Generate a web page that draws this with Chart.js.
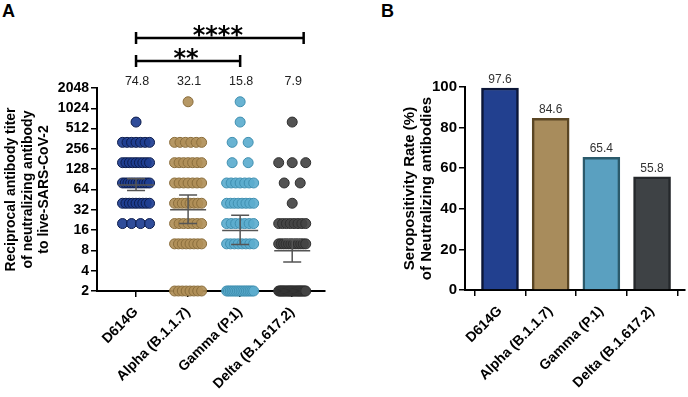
<!DOCTYPE html>
<html>
<head>
<meta charset="utf-8">
<script src="https://cdn.jsdelivr.net/npm/chart.js@4.4.0/dist/chart.umd.min.js"></script>
<style>
  body { margin: 0; background: #fff; width: 688px; height: 397px; overflow: hidden; position: relative; font-family: 'Liberation Sans', Arial, sans-serif; }
  #wrapA { position: absolute; left: 0; top: 0; width: 340px; height: 397px; }
  #wrapB { position: absolute; left: 340px; top: 0; width: 348px; height: 397px; }
  .tag { position: absolute; top: 0; font-weight: bold; font-size: 18px; line-height: 22px; color: #000; }
</style>
</head>
<body>
<div class="tag" style="left:2px">A</div>
<div class="tag" style="left:381px">B</div>
<div id="wrapA"><canvas id="chartA"></canvas></div>
<div id="wrapB"><canvas id="chartB"></canvas></div>
<script>
const groups = ['D614G', 'Alpha (B.1.1.7)', 'Gamma (P.1)', 'Delta (B.1.617.2)'];

// panel A: number of sera at each titer level
const titerLevels = [2, 10, 20, 40, 80, 160, 320, 640, 1280];
const countsD614G = [0, 0, 4, 9, 11, 9, 7, 1, 0];
const countsAlpha = [8, 8, 7, 8, 7, 7, 6, 0, 1];
const countsGamma = [16, 8, 7, 8, 7, 2, 2, 1, 1];
const countsDelta = [25, 12, 8, 1, 2, 3, 0, 1, 0];
const geoMean = [74.8, 32.1, 15.8, 7.9];
const ciLow = [62, 20, 9.8, 5.4];
const ciHigh = [92, 53, 26.5, 11.5];
const yTicksA = [2, 4, 8, 16, 32, 64, 128, 256, 512, 1024, 2048];

// panel B
const seroRate = [99.5, 84.6, 65.4, 55.8];
const seroLabels = ['97.6', '84.6', '65.4', '55.8'];
const yTicksB = [0, 20, 40, 60, 80, 100];

const dotFill = ['rgba(30,62,145,0.92)', 'rgba(176,143,88,0.92)', 'rgba(92,172,206,0.92)', 'rgba(68,68,68,0.92)'];
const dotLine = ['#0c1c4c', '#8a6d3b', '#3f8fb0', '#2e2e2e'];
const barFill = ['#22408f', '#a88c5c', '#5aa0c0', '#3e4245'];
const barLine = ['#0b1638', '#5a4624', '#2b5a6b', '#25282b'];

const FONT = "'Liberation Sans', Arial, sans-serif";

// spread the points of one titer level side by side
function swarm(counts, g) {
  const pts = [];
  counts.forEach((n, i) => {
    if (!n) return;
    const span = Math.min(27, (n - 1) * 16) / 52;
    for (let k = 0; k < n; k++) {
      const off = n === 1 ? 0 : -span / 2 + span * k / (n - 1);
      pts.push({ x: g + off, y: titerLevels[i] });
    }
  });
  return pts;
}

const allCounts = [countsD614G, countsAlpha, countsGamma, countsDelta];

const axisGrid = { drawOnChartArea: false, drawTicks: true, tickLength: 6, color: '#000', lineWidth: 1.5 };
const axisBorder = { display: true, color: '#000', width: 2 };

const annotA = {
  id: 'annotA',
  afterDatasetsDraw(chart) {
    const { ctx, scales: { x, y } } = chart;
    ctx.save();
    ctx.strokeStyle = '#555';
    ctx.lineWidth = 1.5;
    geoMean.forEach((m, g) => {
      const cx = x.getPixelForValue(g);
      const ym = y.getPixelForValue(m);
      const yl = y.getPixelForValue(ciLow[g]);
      const yh = y.getPixelForValue(ciHigh[g]);
      ctx.beginPath();
      ctx.moveTo(cx - 18, ym); ctx.lineTo(cx + 18, ym);
      ctx.moveTo(cx, yl); ctx.lineTo(cx, yh);
      ctx.moveTo(cx - 9, yl); ctx.lineTo(cx + 9, yl);
      ctx.moveTo(cx - 9, yh); ctx.lineTo(cx + 9, yh);
      ctx.stroke();
    });
    ctx.restore();
  },
  afterDraw(chart) {
    const { ctx, chartArea, scales: { x } } = chart;
    ctx.save();
    // geometric means above the columns
    ctx.fillStyle = '#222';
    ctx.font = '12.5px ' + FONT;
    ctx.textAlign = 'center';
    ctx.textBaseline = 'middle';
    geoMean.forEach((m, g) => {
      ctx.fillText(m.toFixed(1), x.getPixelForValue(g) + 1, chartArea.top - 6);
    });
    // significance brackets
    const brackets = [
      { from: 0, to: 2, dy: 27, label: '**' },
      { from: 0, to: 3.22, dy: 50, label: '****' }
    ];
    ctx.strokeStyle = '#000';
    ctx.fillStyle = '#000';
    ctx.lineWidth = 2.5;
    ctx.font = "bold 24px 'DejaVu Sans', sans-serif";
    ctx.textBaseline = 'alphabetic';
    brackets.forEach(b => {
      const x1 = x.getPixelForValue(b.from), x2 = x.getPixelForValue(b.to);
      const yy = chartArea.top - b.dy;
      ctx.beginPath();
      ctx.moveTo(x1, yy); ctx.lineTo(x2, yy);
      ctx.moveTo(x1, yy - 6); ctx.lineTo(x1, yy + 6);
      ctx.moveTo(x2, yy - 6); ctx.lineTo(x2, yy + 6);
      ctx.stroke();
      ctx.fillText(b.label, (x1 + x2) / 2 - 2, yy + 5);
    });
    ctx.restore();
  }
};

new Chart(document.getElementById('chartA'), {
  type: 'scatter',
  data: {
    datasets: allCounts.map((c, g) => ({
      label: groups[g],
      data: swarm(c, g),
      backgroundColor: dotFill[g],
      borderColor: dotLine[g],
      borderWidth: 1,
      pointRadius: 5,
      clip: false
    }))
  },
  options: {
    responsive: true,
    maintainAspectRatio: false,
    animation: false,
    layout: { padding: { top: 88, right: 15, left: 0, bottom: 0 } },
    plugins: { legend: { display: false }, tooltip: { enabled: false } },
    scales: {
      x: {
        type: 'linear',
        min: -0.75,
        max: 3.63,
        afterBuildTicks: s => { s.ticks = [0, 1, 2, 3].map(v => ({ value: v })); },
        afterFit: s => { s.height = 106; },
        grid: axisGrid,
        border: axisBorder,
        ticks: {
          color: '#000',
          font: { family: FONT, size: 14, weight: 'bold' },
          minRotation: 45,
          maxRotation: 45,
          padding: 7,
          callback: v => groups[v]
        }
      },
      y: {
        type: 'logarithmic',
        min: 2,
        max: 2048,
        afterBuildTicks: s => { s.ticks = yTicksA.map(v => ({ value: v })); },
        afterFit: s => { s.width = 97; },
        grid: axisGrid,
        border: axisBorder,
        ticks: {
          color: '#000',
          font: { family: FONT, size: 14, weight: 'bold' },
          padding: 2,
          callback: v => String(v)
        },
        title: {
          display: true,
          text: ['Reciprocal antibody titer', 'of neutralizing antibody', 'to live-SARS-CoV-2'],
          color: '#000',
          font: { family: FONT, size: 14, weight: 'bold', lineHeight: '16.5px' },
          padding: { top: 3, bottom: 0 }
        }
      }
    }
  },
  plugins: [annotA]
});

const barLabels = {
  id: 'barLabels',
  afterDatasetsDraw(chart) {
    const { ctx } = chart;
    const meta = chart.getDatasetMeta(0);
    ctx.save();
    ctx.fillStyle = '#333';
    ctx.font = '12px ' + FONT;
    ctx.textAlign = 'center';
    ctx.textBaseline = 'alphabetic';
    meta.data.forEach((bar, i) => {
      ctx.fillText(seroLabels[i], bar.x, bar.y - 5);
    });
    ctx.restore();
  }
};

new Chart(document.getElementById('chartB'), {
  type: 'bar',
  data: {
    datasets: [{
      data: seroRate.map((v, i) => ({ x: i, y: v })),
      backgroundColor: barFill,
      borderColor: barLine,
      borderWidth: 2.5,
      barThickness: 37
    }]
  },
  options: {
    responsive: true,
    maintainAspectRatio: false,
    animation: false,
    layout: { padding: { top: 87, right: 3, left: 0, bottom: 0 } },
    plugins: { legend: { display: false }, tooltip: { enabled: false } },
    scales: {
      x: {
        type: 'linear',
        min: -0.69,
        max: 3.65,
        offset: false,
        afterBuildTicks: s => { s.ticks = [0, 1, 2, 3].map(v => ({ value: v })); },
        afterFit: s => { s.height = 107; },
        grid: axisGrid,
        border: axisBorder,
        ticks: {
          color: '#000',
          font: { family: FONT, size: 14, weight: 'bold' },
          minRotation: 45,
          maxRotation: 45,
          padding: 7,
          callback: v => groups[v]
        }
      },
      y: {
        min: 0,
        max: 100,
        afterBuildTicks: s => { s.ticks = yTicksB.map(v => ({ value: v })); },
        afterFit: s => { s.width = 125; },
        grid: axisGrid,
        border: axisBorder,
        ticks: {
          color: '#000',
          font: { family: FONT, size: 15, weight: 'bold' },
          padding: 2
        },
        title: {
          display: true,
          text: ['Seropositivity Rate (%)', 'of Neutralizing antibodies'],
          color: '#000',
          font: { family: FONT, size: 15, weight: 'bold', lineHeight: '17px' },
          padding: { top: 61.5, bottom: 0 }
        }
      }
    }
  },
  plugins: [barLabels]
});
</script>
</body>
</html>
